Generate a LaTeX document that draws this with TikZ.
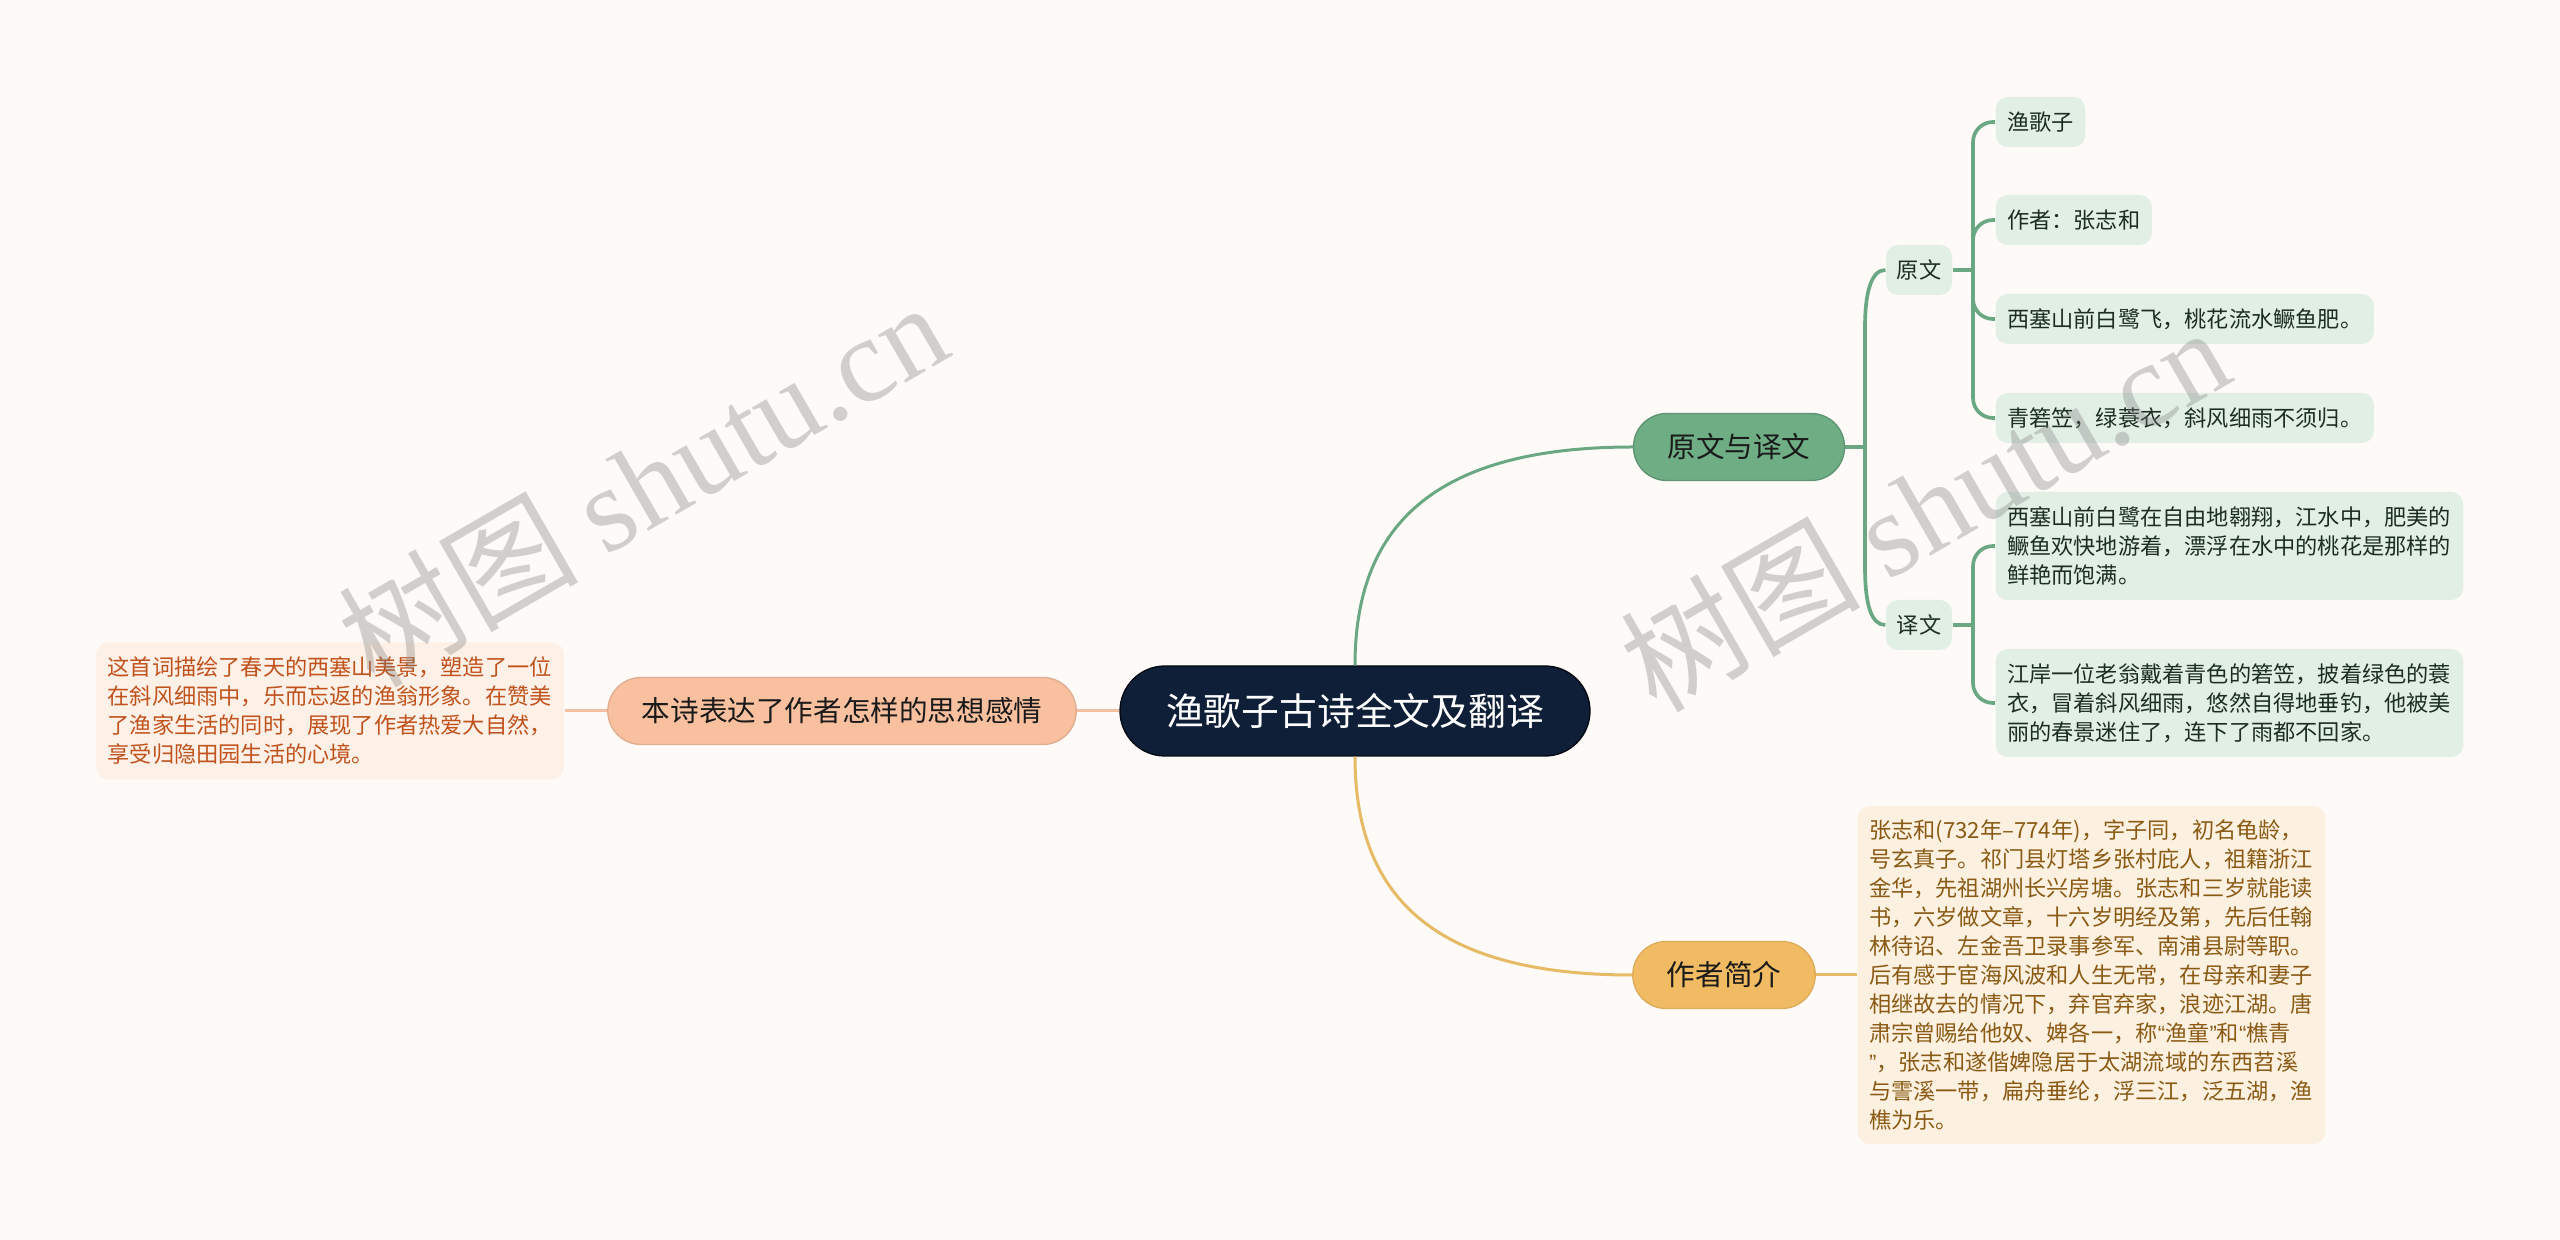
\documentclass[tikz,border=0pt]{standalone}
\usepackage{fontspec}
\setmainfont{Noto Sans CJK SC}
\newfontfamily\wmlat{Liberation Serif}
\newfontfamily\qfont{Liberation Sans}
\definecolor{bgc}{HTML}{FDFAF8}
\definecolor{rootc}{HTML}{0F1F38}
\definecolor{gfill}{HTML}{6FAE85}
\definecolor{glinec}{HTML}{6AA883}
\definecolor{gleafc}{HTML}{E2EFE5}
\definecolor{gtext}{HTML}{1C2E22}
\definecolor{ofill}{HTML}{F0BB62}
\definecolor{olinec}{HTML}{E7BA66}
\definecolor{oleafc}{HTML}{FCF1E1}
\definecolor{otext}{HTML}{8A5A14}
\definecolor{pfill}{HTML}{F9C0A0}
\definecolor{plinec}{HTML}{F2BFA3}
\definecolor{pleafc}{HTML}{FDF0E7}
\definecolor{ptext}{HTML}{C0521C}
\definecolor{dtext}{HTML}{1A1A1A}
\definecolor{wmc}{HTML}{777777}
\newcommand{\myoq}{{\qfont “}}
\newcommand{\mycq}{{\qfont ”}}
\begin{document}
\begin{tikzpicture}[x=0.3pt,y=-0.3pt,
  rootnode/.style={rectangle, rounded corners=13.5pt, fill=rootc, draw=black!70!rootc, line width=0.4pt,
    minimum height=27pt, inner xsep=13.8pt, inner ysep=0pt, text=white,
    font=\fontsize{11.34pt}{13pt}\selectfont},
  lone/.style={rectangle, rounded corners=10pt, minimum height=20.1pt, inner xsep=10.2pt, inner ysep=0pt,
    text=dtext, font=\fontsize{8.58pt}{10pt}\selectfont, line width=0.4pt},
  ltwo/.style={rectangle, rounded corners=3.6pt, fill=gleafc, minimum width=19.8pt, minimum height=15pt,
    inner sep=0pt, text=gtext, font=\fontsize{6.66pt}{8.7pt}\selectfont},
  leafbox/.style={rectangle, rounded corners=3.6pt, minimum height=15pt, inner xsep=3.45pt, inner ysep=0pt,
    anchor=west, font=\fontsize{6.66pt}{8.7pt}\selectfont},
  gleaf/.style={leafbox, fill=gleafc, text=gtext},
  para/.style={text width=133.4pt, align=left},
  gline/.style={draw=glinec, line width=1.1pt},
  gmain/.style={draw=glinec, line width=0.9pt},
  oline/.style={draw=olinec, line width=0.9pt},
  pline/.style={draw=plinec, line width=0.9pt},
  wm/.style={text=wmc, text opacity=0.32, inner sep=0pt, font=\fontsize{36pt}{40pt}\selectfont}
]
\fill[bgc] (0,0) rectangle (2560,1240);
\useasboundingbox (0,0) rectangle (2560,1240);

% nodes
\node[rootnode] (root) at (1355,711) {渔歌子古诗全文及翻译};
\node[lone, fill=pfill, draw=pfill!90!black] (q) at (842,711) {本诗表达了作者怎样的思想感情};
\node[leafbox, para, fill=pleafc, text=ptext, minimum height=41.1pt, anchor=center] (ql) at (330,711)
  {这首词描绘了春天的西塞山美景，塑造了一位\\在斜风细雨中，乐而忘返的渔翁形象。在赞美\\了渔家生活的同时，展现了作者热爱大自然，\\享受归隐田园生活的心境。};

\node[lone, fill=gfill, draw=gfill!85!black] (yw) at (1739,447) {原文与译文};
\node[lone, fill=ofill, draw=ofill!92!black] (zz) at (1724,975) {作者简介};

\node[ltwo] (yuan) at (1919,270) {原文};
\node[ltwo] (yi) at (1919,625) {译文};

\node[gleaf] (l1) at (1995,122) {渔歌子};
\node[gleaf] (l2) at (1995,220) {作者：张志和};
\node[gleaf] (l3) at (1995,319) {西塞山前白鹭飞，桃花流水鳜鱼肥。};
\node[gleaf] (l4) at (1995,418) {青箬笠，绿蓑衣，斜风细雨不须归。};

\node[gleaf, para, minimum height=32.4pt] (t1) at (1995,546)
  {西塞山前白鹭在自由地翱翔，江水中，肥美的\\鳜鱼欢快地游着，漂浮在水中的桃花是那样的\\鲜艳而饱满。};
\node[gleaf, para, minimum height=32.4pt] (t2) at (1995,703)
  {江岸一位老翁戴着青色的箬笠，披着绿色的蓑\\衣，冒着斜风细雨，悠然自得地垂钓，他被美\\丽的春景迷住了，连下了雨都不回家。};

\node[leafbox, para, fill=oleafc, text=otext, minimum height=101.4pt] (bio) at (1857,975)
  {张志和(732年–774年)，字子同，初名龟龄，\\号玄真子。祁门县灯塔乡张村庇人，祖籍浙江\\金华，先祖湖州长兴房塘。张志和三岁就能读\\书，六岁做文章，十六岁明经及第，先后任翰\\林待诏、左金吾卫录事参军、南浦县尉等职。\\后有感于宦海风波和人生无常，在母亲和妻子\\相继故去的情况下，弃官弃家，浪迹江湖。唐\\肃宗曾赐给他奴、婢各一，称\myoq 渔童\mycq 和\myoq 樵青\\\mycq ，张志和遂偕婢隐居于太湖流域的东西苕溪\\与霅溪一带，扁舟垂纶，浮三江，泛五湖，渔\\樵为乐。};

% junctions
\coordinate (jA) at (1865,447);
\coordinate (jB) at (1973,270);
\coordinate (jC) at (1973,625);

% connectors
\draw[pline] (root.west) -- (q.east);
\draw[pline] (q.west) -- (ql.east);
\draw[gmain] (root.north) .. controls +(0,-136) and +(-203,0) .. (yw.west);
\draw[oline] (root.south) .. controls +(0,136) and +(-203,0) .. (zz.west);
\draw[oline] (zz.east) -- (bio.west);

\draw[gline] (yw.east) -- (jA);
\draw[gline] (jA) -- ++(0,-120) .. controls +(0,-35) and +(-14,0) .. (yuan.west);
\draw[gline] (jA) -- ++(0,120) .. controls +(0,38) and +(-14,0) .. (yi.west);

\draw[gline] (yuan.east) -- (jB);
\draw[gline, rounded corners=6pt] (jB) |- (l1.west);
\draw[gline, rounded corners=6pt] (jB) |- (l2.west);
\draw[gline, rounded corners=6pt] (jB) |- (l3.west);
\draw[gline, rounded corners=6pt] (jB) |- (l4.west);

\draw[gline] (yi.east) -- (jC);
\draw[gline, rounded corners=6pt] (jC) |- (t1.west);
\draw[gline, rounded corners=6pt] (jC) |- (t2.west);

% watermarks
\node[wm, anchor=base west, rotate=30] (wm1) at (374,690) {树图 {\wmlat shutu.cn}};
\node[wm, anchor=base west, rotate=30] (wm2) at (1656,715) {树图 {\wmlat shutu.cn}};
\end{tikzpicture}
\end{document}
